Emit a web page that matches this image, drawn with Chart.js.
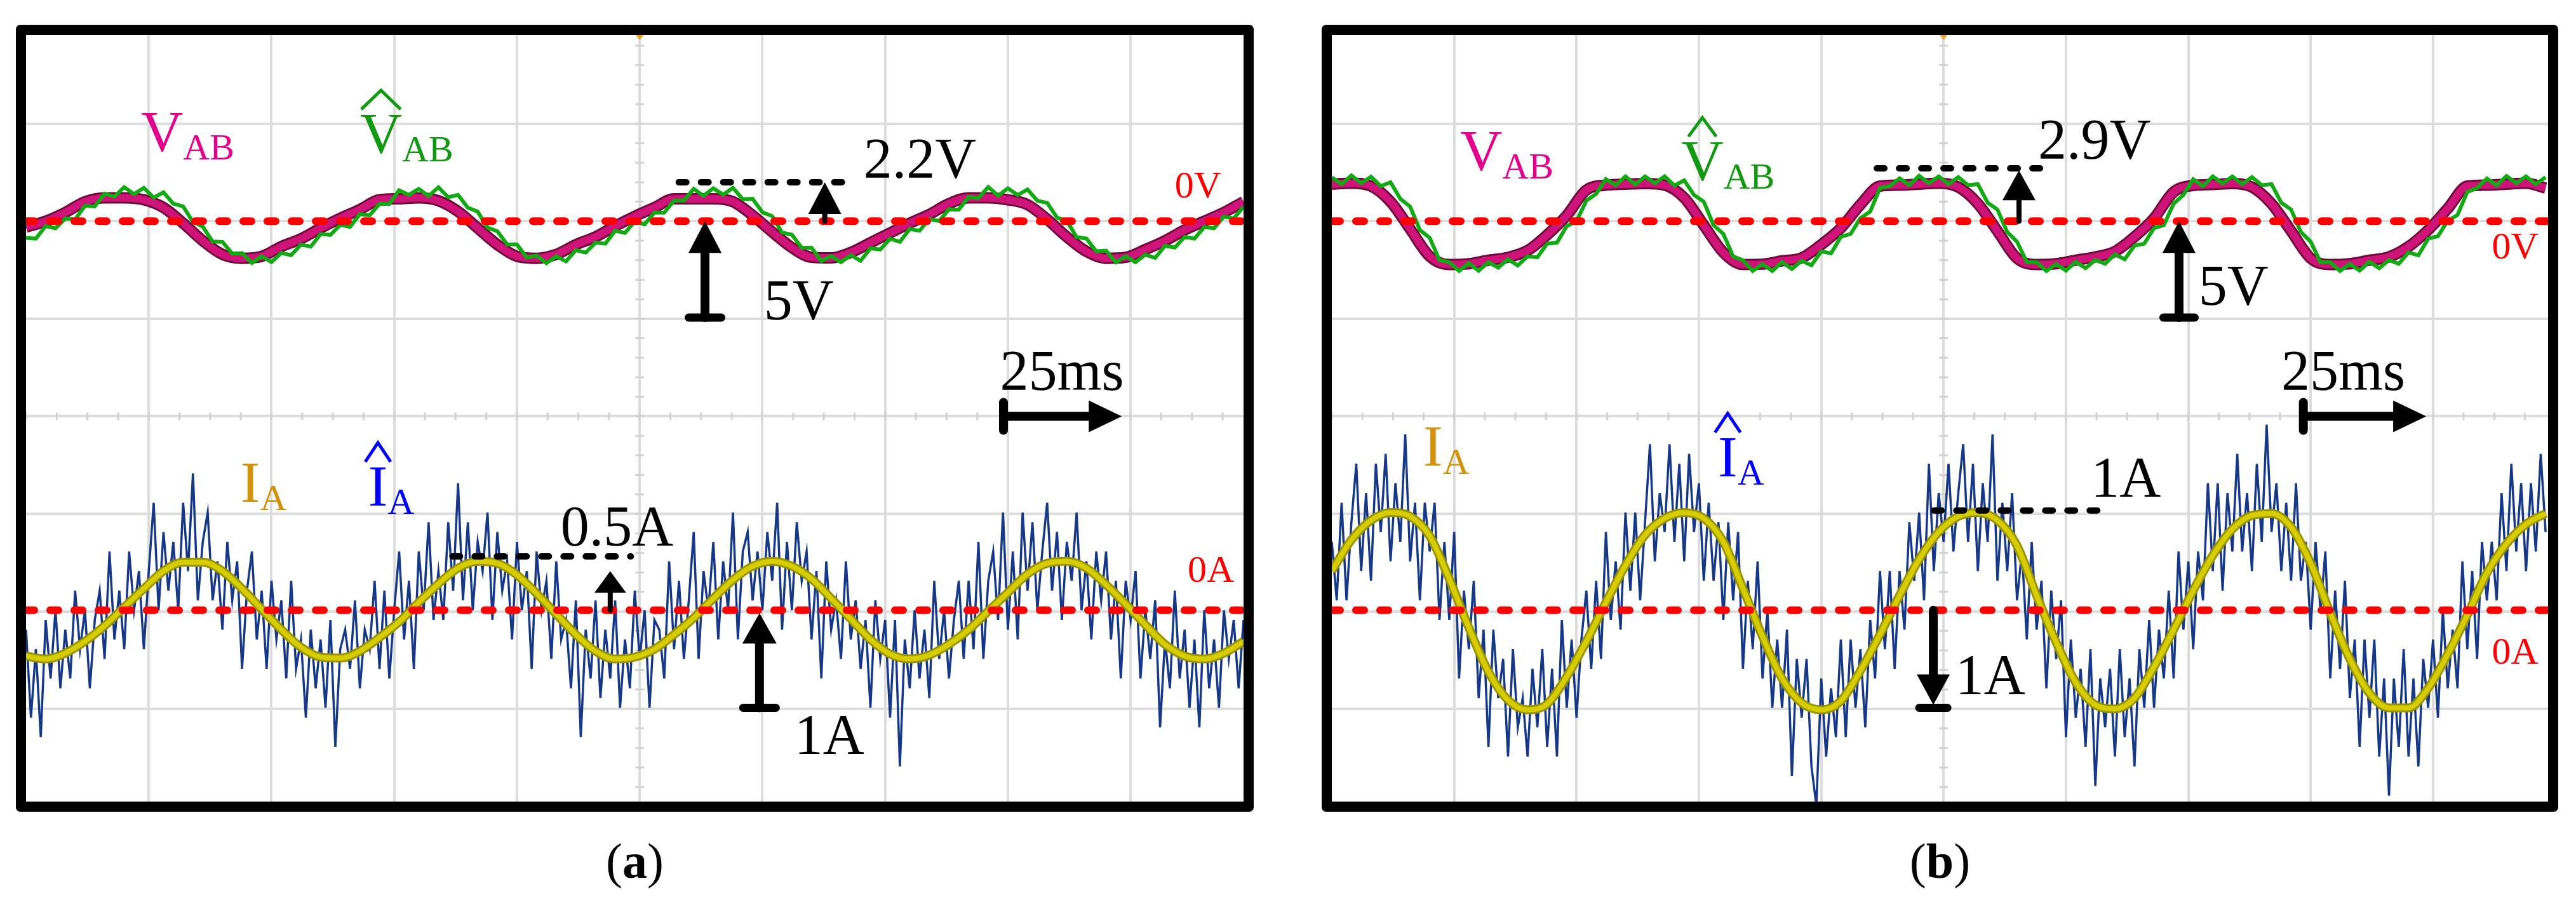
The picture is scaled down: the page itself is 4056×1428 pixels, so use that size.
<!DOCTYPE html>
<html>
<head>
<meta charset="utf-8">
<script src="https://cdn.jsdelivr.net/npm/chart.js@4.4.1/dist/chart.umd.min.js"></script>
<style>
  html, body { margin: 0; padding: 0; background: #fff; }
  body { width: 4056px; height: 1428px; position: relative; overflow: hidden; font-family: "Liberation Serif", serif; }
  .panel { position: absolute; top: 39px; border: 16px solid #000; border-radius: 7px; background: #fff; }
  .panel canvas { display: block; }
  .cap { position: absolute; top: 1317px; font-size: 78px; line-height: 78px; text-align: center; color: #000; }
</style>
</head>
<body>
<div class="panel" style="left:25px;width:1917px;height:1207px"><canvas id="chartA" width="1917" height="1207"></canvas></div>
<div class="panel" style="left:2081px;width:1915px;height:1207px"><canvas id="chartB" width="1915" height="1207"></canvas></div>
<div class="cap" style="left:25px;width:1949px">(<b>a</b>)</div>
<div class="cap" style="left:2081px;width:1947px">(<b>b</b>)</div>
<script>
// time grids (ms) - 25 ms per division
const tCoarse = Array.from({ length: 63 }, (_, i) => i * 4);
const tMid = Array.from({ length: 125 }, (_, i) => i * 2);
const tFine = Array.from({ length: 249 }, (_, i) => i);
const tZero = [0, 250];
const zeroLevel = [0, 0];

// (a) voltages, V
const vabA = [-0.3, 0.0, 0.45, 1.0, 1.2, 1.2, 1.1, 0.7, -0.1, -1.0,
  -1.7, -1.9, -1.8, -1.3, -0.9, -0.35, 0.15, 0.6, 1.1, 1.15,
  1.2, 1.05, 0.5, -0.35, -1.2, -1.8, -1.9, -1.7, -1.2, -0.8,
  -0.25, 0.25, 0.7, 1.15, 1.15, 1.15, 1.0, 0.3, -0.55, -1.35,
  -1.85, -1.88, -1.6, -1.1, -0.6, -0.1, 0.35, 0.9, 1.2, 1.2,
  1.1, 0.85, 0.1, -0.8, -1.55, -1.9, -1.85, -1.45, -1.0, -0.45,
  0.0, 0.45, 1.0];
const vabHatA = [-0.85, -0.89, -0.25, -0.36, 0.14, 0.09, 0.79, 0.76, 1.41, 1.26,
  1.75, 1.39, 1.71, 1.21, 1.48, 0.9, 0.76, -0.04, -0.28, -1.04,
  -1.06, -1.66, -1.64, -2.14, -1.8, -2.09, -1.63, -1.74, -1.2, -1.3,
  -0.66, -0.7, -0.19, -0.29, 0.36, 0.31, 0.89, 0.89, 1.59, 1.35,
  1.66, 1.29, 1.74, 1.23, 1.35, 0.69, 0.49, -0.33, -0.51, -1.19,
  -1.19, -1.86, -1.76, -2.15, -1.8, -2.06, -1.48, -1.61, -1.1, -1.15,
  -0.49, -0.6, -0.01, -0.16, 0.44, 0.44, 1.06, 1.06, 1.66, 1.3,
  1.69, 1.36, 1.71, 1.13, 1.15, 0.46, 0.26, -0.58, -0.69, -1.36,
  -1.36, -2.04, -1.79, -2.1, -1.74, -2.03, -1.39, -1.45, -0.9, -1.06,
  -0.4, -0.49, 0.11, 0.01, 0.61, 0.59, 1.24, 1.19, 1.75, 1.31,
  1.69, 1.34, 1.63, 1.05, 0.94, 0.19, 0.02, -0.81, -0.89, -1.54,
  -1.51, -2.11, -1.8, -2.1, -1.71, -1.88, -1.26, -1.35, -0.8, -0.89,
  -0.3, -0.36, 0.24, 0.14, 0.74];
// (a) currents, A
const iaA = [-0.47, -0.5, -0.44, -0.32, -0.16, 0.03, 0.22, 0.4, 0.49, 0.49,
  0.4, 0.22, 0.01, -0.2, -0.38, -0.48, -0.49, -0.42, -0.28, -0.12,
  0.08, 0.27, 0.43, 0.5, 0.48, 0.36, 0.17, -0.04, -0.25, -0.42,
  -0.5, -0.48, -0.4, -0.25, -0.08, 0.12, 0.31, 0.45, 0.5, 0.45,
  0.32, 0.12, -0.09, -0.3, -0.45, -0.5, -0.46, -0.35, -0.2, -0.01,
  0.18, 0.37, 0.48, 0.5, 0.43, 0.26, 0.06, -0.15, -0.35, -0.47,
  -0.5, -0.44, -0.32];
const iaHatA = [-0.2, -1.1, -0.4, -1.3, -0.1, -0.7, 0.0, -0.8, -0.2, -0.7,
  0.2, -0.4, 0.0, -0.8, -0.1, 0.2, -0.5, 0.6, -0.3, 0.2,
  -0.4, 0.6, 0.0, 0.4, -0.4, 0.4, 1.1, 0.0, 0.8, 0.2,
  0.7, 0.0, 1.1, 0.4, 1.4, 0.1, 0.7, 1.0, 0.1, 0.5,
  -0.2, 0.7, 0.1, 0.5, -0.6, 0.2, 0.6, -0.3, 0.2, -0.6,
  0.3, -0.3, 0.1, -0.7, 0.3, -0.6, -0.3, -1.1, -0.2, -0.8,
  -0.3, -1.0, -0.1, -1.4, -0.4, -0.2, -0.6, 0.1, -0.8, -0.2,
  -0.4, 0.3, -0.6, 0.2, -0.7, 0.0, 0.6, -0.3, 0.3, -0.6,
  0.6, 0.0, 0.9, -0.1, 0.4, -0.1, 0.9, 0.2, 1.3, 0.1,
  0.9, 0.0, 0.7, 0.4, 1.0, -0.1, 0.8, 0.2, 0.5, -0.3,
  0.7, 0.0, 0.4, -0.6, 0.6, 0.0, 0.3, -0.5, 0.5, -0.3,
  -0.1, -0.8, 0.1, -1.3, -0.2, -0.7, 0.1, -0.9, -0.2, -0.7,
  0.1, -1.0, -0.3, -0.8, 0.2, -0.5, 0.0, -1.0, -0.1, -0.2,
  -0.7, 0.5, -0.4, 0.3, -0.5, 0.1, 0.8, -0.5, 0.4, 0.0,
  0.7, -0.3, 0.5, 0.0, 1.0, -0.3, 0.6, 0.8, 0.1, 0.6,
  0.0, 0.8, 0.3, 1.1, -0.2, 0.7, 0.0, 0.9, 0.3, 0.6,
  -0.3, 0.4, -0.7, 0.5, -0.2, 0.1, -0.5, 0.5, -0.3, 0.1,
  -0.6, -0.1, -1.0, 0.1, -0.5, -0.1, -1.1, -0.1, -1.6, -0.3,
  -0.8, 0.0, -0.7, -0.2, -0.9, 0.3, -0.5, 0.0, -0.7, -0.1,
  0.3, -0.5, 0.3, -0.4, 0.7, -0.5, 0.3, 0.6, -0.1, 1.0,
  -0.2, 0.6, -0.3, 1.0, 0.2, 0.9, 0.0, 0.6, 1.1, 0.2,
  0.8, -0.1, 0.7, 0.3, 1.0, 0.0, 0.5, -0.3, 0.6, 0.1,
  0.6, -0.3, 0.3, -0.7, 0.3, -0.1, 0.4, -0.7, 0.0, -0.5,
  0.1, -1.2, -0.3, -0.8, 0.2, -0.7, -0.2, -1.0, -0.3, -1.2,
  0.0, -0.8, -0.3, -1.0, 0.0, -0.5, -0.1, -0.8, -0.1];

// (b) voltages, V
const vabB = [1.9, 1.95, 1.8, 1.0, -0.4, -1.8, -2.22, -2.18, -2.0, -1.85,
  -1.5, -0.7, 0.3, 1.6, 1.85, 1.9, 1.93, 1.85, 1.2, -0.2,
  -1.6, -2.22, -2.2, -2.03, -1.88, -1.2, -0.35, 0.85, 1.8, 1.85,
  1.9, 1.95, 1.75, 0.9, -0.5, -1.9, -2.22, -2.18, -2.0, -1.83,
  -1.55, -0.8, 0.15, 1.5, 1.83, 1.88, 1.93, 1.75, 0.9, -0.5,
  -1.9, -2.22, -2.18, -2.0, -1.83, -1.3, -0.45, 0.65, 1.8, 1.85,
  1.9, 1.95, 1.7];
const vabHatB = [2.25, 1.9, 2.35, 1.95, 2.28, 1.8, 2.0, 1.15, 0.75, -0.45,
  -0.85, -2.0, -2.1, -2.55, -2.15, -2.54, -2.1, -2.38, -1.95, -2.27,
  -1.8, -1.85, -1.15, -1.1, -0.25, 0.0, 1.05, 1.4, 2.16, 1.85,
  2.3, 1.88, 2.3, 1.95, 2.3, 1.83, 2.1, 1.35, 1.0, -0.2,
  -0.65, -1.8, -2.0, -2.55, -2.2, -2.55, -2.1, -2.45, -2.03, -2.25,
  -1.55, -1.65, -0.8, -0.65, 0.15, 0.5, 1.7, 1.8, 2.2, 1.85,
  2.33, 1.95, 2.3, 1.9, 2.26, 1.85, 1.9, 0.95, 0.6, -0.55,
  -1.05, -2.1, -2.1, -2.55, -2.2, -2.53, -2.08, -2.41, -1.99, -2.18,
  -1.7, -1.95, -1.25, -1.15, -0.35, -0.2, 0.9, 1.35, 2.15, 1.8,
  2.3, 1.93, 2.3, 1.9, 2.26, 1.85, 1.9, 0.95, 0.6, -0.55,
  -1.05, -2.1, -2.1, -2.55, -2.2, -2.53, -2.08, -2.41, -1.99, -2.18,
  -1.6, -1.75, -0.9, -0.77, 0.03, 0.32, 1.5, 1.7, 2.19, 1.84,
  2.32, 1.95, 2.3, 1.9, 2.26];
// (b) currents, A
const iaB = [0.4, 0.72, 0.92, 1.0, 0.96, 0.76, 0.32, -0.18, -0.63, -0.92,
  -1.02, -0.96, -0.68, -0.32, 0.08, 0.46, 0.77, 0.94, 1.0, 0.94,
  0.7, 0.22, -0.27, -0.7, -0.95, -1.02, -0.93, -0.62, -0.25, 0.15,
  0.52, 0.8, 0.96, 1.0, 0.92, 0.66, 0.15, -0.33, -0.74, -0.97,
  -1.01, -0.9, -0.58, -0.2, 0.2, 0.56, 0.83, 0.97, 0.99, 0.85,
  0.48, -0.03, -0.5, -0.85, -1.0, -1.0, -0.8, -0.45, -0.05, 0.38,
  0.68, 0.88, 0.99];
const iaHatB = [0.7, 0.1, 1.1, 0.1, 0.9, 1.5, 0.4, 1.2, 0.3, 1.5,
  0.8, 1.6, 0.5, 1.3, 0.7, 1.8, 0.5, 1.1, 0.1, 1.1,
  0.6, 1.1, -0.1, 0.7, -0.1, 0.8, -0.7, 0.2, -0.4, 0.3,
  -0.9, -0.2, -1.4, -0.2, -0.9, -0.5, -1.5, -0.4, -1.2, -0.9,
  -1.5, -0.6, -1.2, -0.4, -1.4, -0.6, -1.5, -0.1, -1.0, -0.3,
  -1.1, -0.3, 0.2, -0.6, 0.3, -0.5, 0.8, -0.1, 0.5, -0.2,
  1.0, 0.2, 1.0, 0.1, 0.9, 1.7, 0.5, 1.2, 0.8, 1.7,
  0.7, 1.5, 0.5, 1.6, 0.8, 1.3, 0.3, 1.1, 0.3, 0.9,
  -0.1, 0.9, 0.1, 0.8, -0.6, 0.3, -0.4, 0.5, -0.7, 0.0,
  -1.0, -0.3, -1.0, -0.2, -1.7, -0.5, -1.1, -0.5, -1.6, -2.0,
  -0.7, -1.5, -0.8, -1.3, -0.3, -1.3, -0.3, -1.0, -0.4, -1.2,
  -0.1, -0.7, 0.4, -0.4, 0.4, -0.6, 0.4, -0.2, 0.9, 0.3,
  1.0, 0.1, 1.5, 0.4, 1.2, 0.7, 1.5, 0.6, 1.2, 1.7,
  0.7, 1.5, 0.4, 1.3, 0.7, 1.8, 0.3, 1.1, 0.4, 1.2,
  0.1, 0.6, -0.3, 0.7, -0.2, 0.3, -0.8, 0.2, -0.5, 0.1,
  -1.3, -0.3, -1.1, -0.6, -1.4, -0.4, -1.8, -0.7, -1.2, -0.6,
  -1.5, -0.4, -1.3, -0.7, -1.6, -0.4, -1.0, -0.1, -1.0, -0.2,
  -0.7, 0.2, -0.7, 0.6, -0.2, 0.5, -0.4, 0.6, 0.1, 1.3,
  0.4, 1.3, 0.2, 1.2, 0.6, 1.6, 0.6, 1.2, 0.4, 1.5,
  0.7, 1.9, 0.8, 1.3, 0.4, 1.1, 0.3, 1.3, 0.3, 0.7,
  -0.2, 0.7, 0.0, 0.6, -0.7, 0.2, -0.6, 0.3, -0.9, -0.3,
  -1.4, -0.3, -1.1, -0.3, -1.5, -0.7, -1.9, -0.7, -1.4, -0.4,
  -1.5, -0.7, -1.6, -0.5, -1.0, -0.3, -1.1, 0.0, -0.8, -0.2,
  -0.8, 0.5, -0.4, 0.4, -0.5, 0.7, 0.1, 0.7, 0.1, 1.2,
  0.4, 1.5, 0.6, 1.3, 0.4, 1.3, 0.6, 1.6, 0.8];

// annotations, placed in time (ms) and volts / amps
const notesA = {
  labels: [
    { t: 23.4, lvl: 3.59, axis: 'yV', main: 'V', sub: 'AB', color: '#e3008c' },
    { t: 68.0, lvl: 3.49, axis: 'yV', main: 'V', sub: 'AB', color: '#119911', hat: 62 },
    { t: 43.7, lvl: 1.11, axis: 'yI', main: 'I', sub: 'A', color: '#d4920a' },
    { t: 69.7, lvl: 1.07, axis: 'yI', main: 'I', sub: 'A', color: '#0000ff', hat: 40 }
  ],
  texts: [
    { t: 170.6, lvl: 2.22, axis: 'yV', text: '2.2V' },
    { t: 150.3, lvl: -5.04, axis: 'yV', text: '5V' },
    { t: 198.4, lvl: -8.65, axis: 'yV', text: '25ms' },
    { t: 234.0, lvl: 1.21, axis: 'yV', text: '0V', red: true },
    { t: 236.6, lvl: 0.29, axis: 'yI', text: '0A', red: true },
    { t: 108.9, lvl: 0.66, axis: 'yI', text: '0.5A' },
    { t: 156.5, lvl: -1.47, axis: 'yI', text: '1A' }
  ],
  dotted: [
    { t0: 132.3, t1: 169.0, lvl: 2.0, axis: 'yV' },
    { t0: 86.2, t1: 123.2, lvl: 0.55, axis: 'yI' }
  ],
  arrows: [
    { t: 162.7, axis: 'yV', from: 0, to: 2.0, head: 50, headW: 52, shaft: 8 },
    { t: 138.3, axis: 'yV', from: -4.94, to: 0, head: 50, headW: 52, shaft: 14, bar: { lvl: -4.94, w: 63 } },
    { t: 119.0, axis: 'yI', from: 0, to: 0.4, head: 34, headW: 50, shaft: 8 },
    { t: 149.4, axis: 'yI', from: -1.0, to: -0.03, head: 48, headW: 54, shaft: 14, bar: { lvl: -1.0, w: 63 } }
  ],
  span: { t0: 199.1, t1: 223.2, lvl: -10 }
};
const notesB = {
  labels: [
    { t: 26.2, lvl: 2.61, axis: 'yV', main: 'V', sub: 'AB', color: '#e3008c' },
    { t: 71.4, lvl: 2.09, axis: 'yV', main: 'V', sub: 'AB', color: '#119911', hat: 44 },
    { t: 18.7, lvl: 1.48, axis: 'yI', main: 'I', sub: 'A', color: '#d4920a' },
    { t: 78.9, lvl: 1.37, axis: 'yI', main: 'I', sub: 'A', color: '#0000ff', hat: 40 }
  ],
  texts: [
    { t: 144.3, lvl: 3.2, axis: 'yV', text: '2.9V' },
    { t: 177.1, lvl: -4.29, axis: 'yV', text: '5V' },
    { t: 194.0, lvl: -8.65, axis: 'yV', text: '25ms' },
    { t: 237.0, lvl: -1.91, axis: 'yV', text: '0V', red: true },
    { t: 237.0, lvl: -0.55, axis: 'yI', text: '0A', red: true },
    { t: 155.1, lvl: 1.16, axis: 'yI', text: '1A' },
    { t: 127.4, lvl: -0.86, axis: 'yI', text: '1A' }
  ],
  dotted: [
    { t0: 110.7, t1: 147.5, lvl: 2.71, axis: 'yV' },
    { t0: 122.4, t1: 158.3, lvl: 1.02, axis: 'yI' }
  ],
  arrows: [
    { t: 140.4, axis: 'yV', from: 0, to: 2.61, head: 47, headW: 52, shaft: 8 },
    { t: 173.1, axis: 'yV', from: -4.94, to: 0, head: 50, headW: 52, shaft: 14, bar: { lvl: -4.94, w: 61 } },
    { t: 122.9, axis: 'yI', from: 0, to: -0.97, head: 48, headW: 52, shaft: 14, bar: { lvl: -1.0, w: 56 } }
  ],
  span: { t0: 198.5, t1: 223.6, lvl: -10 }
};

const GRID = '#dcdcdc';
const SERIF = '"Liberation Serif", "Times New Roman", serif';

function pts(ts, vs) {
  return ts.map((t, i) => ({ x: t, y: vs[i] }));
}

// minor ticks on the centre cross of the scope screen
const centreTicks = {
  id: 'centreTicks',
  beforeDatasetsDraw(chart) {
    const { ctx, scales } = chart;
    const yc = scales.yV.getPixelForValue(-10);
    const xc = scales.x.getPixelForValue(125);
    ctx.save();
    ctx.strokeStyle = '#d2d2d2';
    ctx.lineWidth = 3;
    ctx.beginPath();
    for (let t = 0; t <= scales.x.max; t += 6.25) {
      const x = scales.x.getPixelForValue(t);
      ctx.moveTo(x, yc - 6); ctx.lineTo(x, yc + 6);
    }
    for (let v = -29; v <= 9; v += 1) {
      const y = scales.yV.getPixelForValue(v);
      ctx.moveTo(xc - 7, y); ctx.lineTo(xc + 7, y);
    }
    ctx.stroke();
    // trigger marker
    ctx.fillStyle = '#f0a020';
    ctx.beginPath();
    ctx.moveTo(xc - 6, 0); ctx.lineTo(xc + 6, 0); ctx.lineTo(xc, 8);
    ctx.fill();
    ctx.restore();
  }
};

const notesPlugin = {
  id: 'notes',
  afterDatasetsDraw(chart, args, opts) {
    const notes = opts.notes;
    const { ctx, scales } = chart;
    const X = t => scales.x.getPixelForValue(t);
    const Y = (axis, v) => scales[axis].getPixelForValue(v);
    ctx.save();
    ctx.textAlign = 'left';
    ctx.textBaseline = 'alphabetic';

    // dotted level marks
    ctx.strokeStyle = '#000';
    ctx.lineWidth = 10;
    ctx.lineCap = 'round';
    ctx.setLineDash([12, 23]);
    notes.dotted.forEach(d => {
      const y = Y(d.axis, d.lvl);
      ctx.beginPath();
      ctx.moveTo(X(d.t0) + 5, y);
      ctx.lineTo(X(d.t1), y);
      ctx.stroke();
    });
    ctx.setLineDash([]);

    // vertical arrows
    ctx.fillStyle = '#000';
    notes.arrows.forEach(a => {
      const x = X(a.t);
      const y0 = Y(a.axis, a.from), y1 = Y(a.axis, a.to);
      const dir = y1 < y0 ? 1 : -1;
      const base = y1 + dir * a.head;
      ctx.lineWidth = a.shaft;
      ctx.lineCap = 'round';
      ctx.beginPath();
      ctx.moveTo(x, y0); ctx.lineTo(x, base);
      ctx.stroke();
      ctx.beginPath();
      ctx.moveTo(x, y1);
      ctx.lineTo(x - a.headW / 2, base);
      ctx.lineTo(x + a.headW / 2, base);
      ctx.closePath();
      ctx.fill();
      if (a.bar) {
        const yb = Y(a.axis, a.bar.lvl);
        ctx.lineWidth = 13;
        ctx.beginPath();
        ctx.moveTo(x - a.bar.w / 2 + 6, yb); ctx.lineTo(x + a.bar.w / 2 - 6, yb);
        ctx.stroke();
      }
    });

    // time-base arrow
    const s = notes.span;
    const ys = Y('yV', s.lvl), xs0 = X(s.t0), xs1 = X(s.t1);
    ctx.lineCap = 'round';
    ctx.lineWidth = 14;
    ctx.beginPath();
    ctx.moveTo(xs0, ys - 22); ctx.lineTo(xs0, ys + 22);
    ctx.moveTo(xs0, ys); ctx.lineTo(xs1 - 50, ys);
    ctx.stroke();
    ctx.beginPath();
    ctx.moveTo(xs1, ys); ctx.lineTo(xs1 - 52, ys - 25); ctx.lineTo(xs1 - 52, ys + 25);
    ctx.closePath();
    ctx.fill();

    // plain text
    notes.texts.forEach(n => {
      ctx.font = (n.red ? 60 : 90) + 'px ' + SERIF;
      ctx.fillStyle = n.red ? '#ff0000' : '#000';
      ctx.fillText(n.text, X(n.t), Y(n.axis, n.lvl));
    });

    // trace labels with subscripts and hats
    notes.labels.forEach(l => {
      const x = X(l.t), y = Y(l.axis, l.lvl);
      ctx.fillStyle = l.color;
      ctx.font = '92px ' + SERIF;
      ctx.fillText(l.main, x, y);
      const w = ctx.measureText(l.main).width;
      if (l.hat) {
        const cx = x + w / 2, bottom = y - 61 - 8;
        ctx.strokeStyle = l.color;
        ctx.lineWidth = 5;
        ctx.lineCap = 'butt';
        ctx.lineJoin = 'miter';
        ctx.beginPath();
        ctx.moveTo(cx - l.hat / 2, bottom);
        ctx.lineTo(cx, bottom - 30);
        ctx.lineTo(cx + l.hat / 2, bottom);
        ctx.stroke();
      }
      ctx.font = '58px ' + SERIF;
      ctx.fillText(l.sub, x + w, y + 13);
    });
    ctx.restore();
  }
};

function makePanel(id, xMax, d, notes) {
  const zeroStyle = { borderColor: '#ff0000', borderWidth: 12, borderDash: [13, 25], borderCapStyle: 'round', order: 0 };
  return new Chart(document.getElementById(id), {
    type: 'line',
    data: {
      datasets: [
        Object.assign({ label: '0V', data: pts(tZero, zeroLevel), yAxisID: 'yV' }, zeroStyle),
        Object.assign({ label: '0A', data: pts(tZero, zeroLevel), yAxisID: 'yI' }, zeroStyle),
        { label: 'I_A', data: pts(tCoarse, d.ia), yAxisID: 'yI', borderColor: '#d6cd00', borderWidth: 8, cubicInterpolationMode: 'monotone', order: 1 },
        { label: 'I_A edge', data: pts(tCoarse, d.ia), yAxisID: 'yI', borderColor: '#9c9300', borderWidth: 14, cubicInterpolationMode: 'monotone', order: 2 },
        { label: 'I_A hat', data: pts(tFine, d.iaHat), yAxisID: 'yI', borderColor: '#163889', borderWidth: 3.5, order: 3 },
        { label: 'V_AB hat', data: pts(tMid, d.vabHat), yAxisID: 'yV', borderColor: '#12aa12', borderWidth: 6, order: 4 },
        { label: 'V_AB', data: pts(tCoarse, d.vab), yAxisID: 'yV', borderColor: '#cf1479', borderWidth: 12, cubicInterpolationMode: 'monotone', order: 5 },
        { label: 'V_AB edge', data: pts(tCoarse, d.vab), yAxisID: 'yV', borderColor: '#700a3a', borderWidth: 18, cubicInterpolationMode: 'monotone', order: 6 }
      ]
    },
    options: {
      responsive: false,
      animation: false,
      events: [],
      layout: { padding: 0 },
      elements: { point: { radius: 0 }, line: { fill: false } },
      plugins: { legend: { display: false }, tooltip: { enabled: false }, notes: { notes } },
      scales: {
        x: {
          type: 'linear', min: 0, max: xMax,
          ticks: { display: false, stepSize: 25, includeBounds: false },
          grid: { color: c => (c.tick && c.tick.value === 0 ? 'rgba(0,0,0,0)' : GRID), lineWidth: 4, drawTicks: false },
          border: { display: false }
        },
        yV: {
          type: 'linear', position: 'left', min: -29.75, max: 9.55,
          ticks: { display: false, stepSize: 5, includeBounds: false },
          grid: { color: GRID, lineWidth: 4, drawTicks: false },
          border: { display: false }
        },
        yI: { type: 'linear', display: false, min: -1.96, max: 5.89 }
      }
    },
    plugins: [centreTicks, notesPlugin]
  });
}

makePanel('chartA', 248, { vab: vabA, vabHat: vabHatA, ia: iaA, iaHat: iaHatA }, notesA);
makePanel('chartB', 248.5, { vab: vabB, vabHat: vabHatB, ia: iaB, iaHat: iaHatB }, notesB);
</script>
</body>
</html>
